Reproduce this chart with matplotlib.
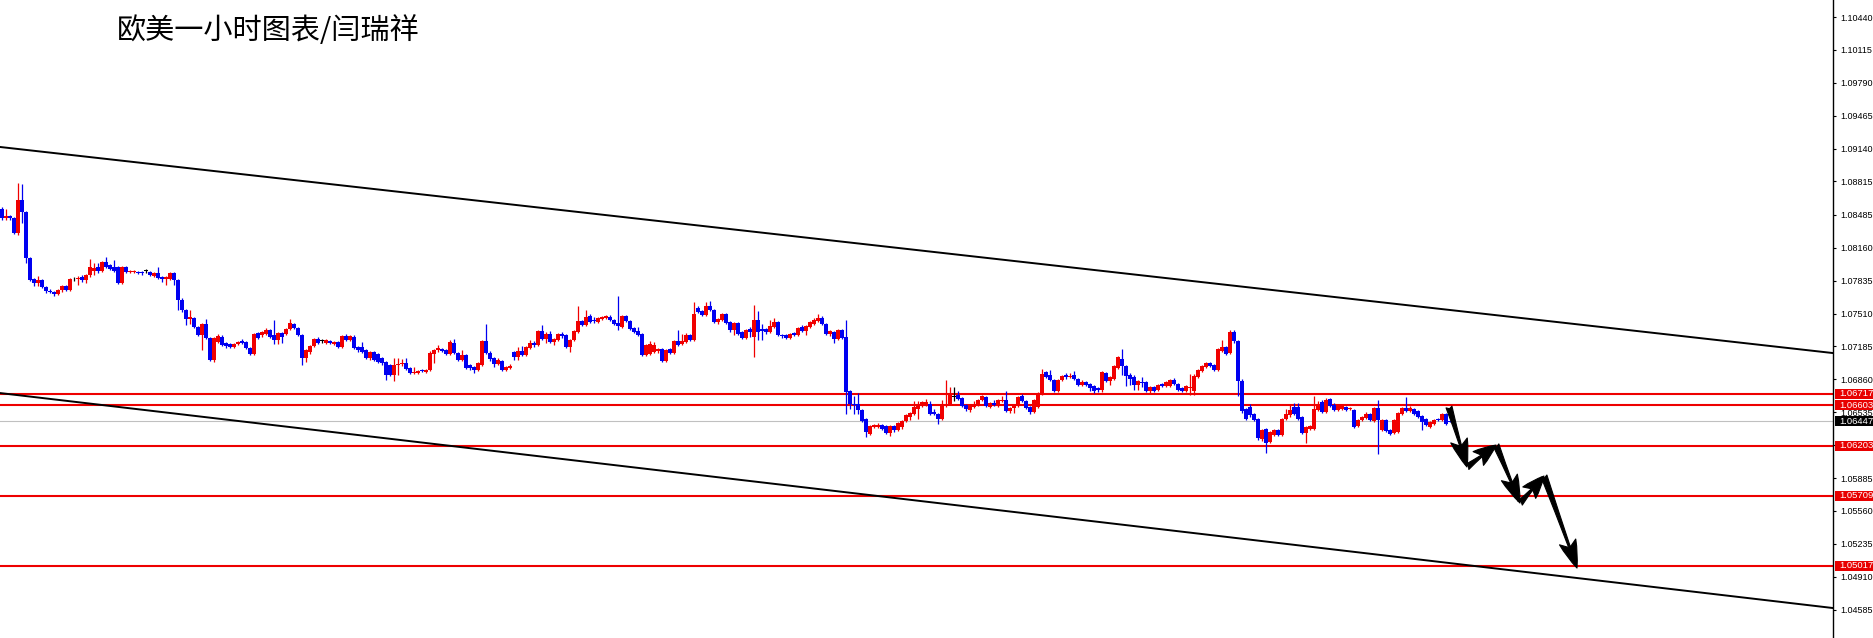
import numpy as np
import matplotlib
matplotlib.use('Agg')
import matplotlib.pyplot as plt
import matplotlib.transforms as mtransforms
from matplotlib.patches import Rectangle

# EURUSD H1 candles, prices in 1/10000 (10854 -> 1.0854)
opens = [
    10854, 10845, 10847, 10845, 10831, 10863, 10851, 10806, 10785, 10781,
    10784, 10777, 10773, 10772, 10770, 10774, 10778, 10774, 10785, 10785,
    10787, 10784, 10789, 10793, 10797, 10793, 10802, 10799, 10797, 10797,
    10781, 10797, 10792, 10792, 10792, 10792, 10793, 10792, 10788, 10791,
    10787, 10785, 10785, 10791, 10784, 10764, 10755, 10746, 10747, 10738,
    10730, 10741, 10727, 10705, 10723, 10728, 10722, 10721, 10718, 10721,
    10724, 10723, 10717, 10711, 10732, 10730, 10731, 10735, 10730, 10725,
    10732, 10731, 10736, 10741, 10737, 10730, 10707, 10713, 10719, 10726,
    10724, 10722, 10724, 10721, 10723, 10718, 10729, 10725, 10728, 10718,
    10718, 10715, 10707, 10713, 10711, 10707, 10703, 10700, 10690, 10700,
    10701, 10702, 10697, 10692, 10692, 10695, 10693, 10695, 10711, 10715,
    10716, 10715, 10711, 10722, 10712, 10705, 10710, 10700, 10698, 10695,
    10700, 10724, 10712, 10707, 10701, 10704, 10695, 10697, 10713, 10708,
    10714, 10710, 10717, 10722, 10720, 10734, 10726, 10731, 10723, 10725,
    10731, 10730, 10718, 10725, 10733, 10744, 10740, 10749, 10745, 10743,
    10746, 10747, 10748, 10745, 10742, 10738, 10749, 10744, 10737, 10734,
    10731, 10710, 10711, 10713, 10714, 10716, 10704, 10716, 10712, 10724,
    10721, 10723, 10730, 10725, 10757, 10754, 10750, 10758, 10755, 10743,
    10745, 10751, 10743, 10735, 10742, 10733, 10727, 10736, 10728, 10745,
    10736, 10736, 10733, 10738, 10743, 10730, 10730, 10727, 10732, 10730,
    10738, 10734, 10738, 10741, 10744, 10747, 10741, 10731, 10733, 10726,
    10735, 10728, 10675, 10662, 10662, 10656, 10647, 10632, 10639, 10639,
    10641, 10640, 10633, 10640, 10636, 10639, 10645, 10649, 10652, 10657,
    10660, 10661, 10662, 10654, 10652, 10647, 10660, 10662, 10669, 10671,
    10668, 10661, 10656, 10659, 10661, 10666, 10669, 10659, 10663, 10660,
    10665, 10666, 10655, 10658, 10660, 10670, 10665, 10659, 10654, 10659,
    10672, 10693, 10690, 10685, 10675, 10685, 10690, 10688, 10690, 10686,
    10680, 10683, 10681, 10679, 10677, 10676, 10692, 10684, 10686, 10697,
    10706, 10699, 10690, 10688, 10680, 10683, 10683, 10675, 10678, 10676,
    10681, 10679, 10679, 10685, 10681, 10677, 10675, 10677, 10675, 10688,
    10694, 10698, 10702, 10700, 10695, 10714, 10718, 10712, 10733, 10724,
    10684, 10657, 10659, 10652, 10647, 10627, 10637, 10624, 10631, 10636,
    10631, 10647, 10651, 10659, 10659, 10649, 10633, 10637, 10637, 10656,
    10664, 10654, 10667, 10661, 10656, 10657, 10659, 10657, 10656, 10640,
    10646, 10648, 10652, 10645, 10658, 10636, 10646, 10636, 10633, 10634,
    10652, 10658, 10655, 10657, 10655, 10650, 10647, 10639, 10642, 10647,
    10646, 10652, 10645,
]
highs = [
    10856, 10854, 10848, 10846, 10880, 10879, 10852, 10807, 10786, 10788,
    10785, 10778, 10775, 10773, 10775, 10779, 10779, 10786, 10787, 10788,
    10789, 10790, 10805, 10801, 10801, 10803, 10807, 10800, 10804, 10798,
    10798, 10798, 10794, 10794, 10793, 10793, 10795, 10793, 10792, 10797,
    10788, 10788, 10792, 10792, 10785, 10766, 10756, 10755, 10748, 10739,
    10742, 10746, 10728, 10728, 10731, 10730, 10723, 10722, 10722, 10724,
    10726, 10724, 10718, 10732, 10733, 10734, 10737, 10736, 10745, 10733,
    10733, 10737, 10746, 10742, 10738, 10731, 10716, 10720, 10727, 10728,
    10726, 10726, 10725, 10724, 10724, 10730, 10731, 10730, 10730, 10719,
    10723, 10716, 10714, 10714, 10712, 10708, 10704, 10701, 10707, 10707,
    10706, 10707, 10698, 10698, 10695, 10696, 10696, 10714, 10716, 10720,
    10717, 10716, 10725, 10726, 10713, 10715, 10711, 10701, 10699, 10703,
    10725, 10741, 10714, 10708, 10707, 10705, 10699, 10701, 10714, 10718,
    10719, 10719, 10725, 10724, 10735, 10740, 10733, 10734, 10727, 10732,
    10733, 10731, 10726, 10735, 10758, 10745, 10755, 10751, 10748, 10748,
    10749, 10750, 10750, 10746, 10768, 10750, 10750, 10745, 10738, 10738,
    10732, 10721, 10724, 10723, 10717, 10717, 10716, 10717, 10725, 10735,
    10731, 10732, 10731, 10762, 10758, 10755, 10762, 10763, 10756, 10747,
    10752, 10752, 10744, 10743, 10743, 10734, 10736, 10738, 10759, 10754,
    10741, 10737, 10745, 10747, 10744, 10731, 10731, 10732, 10733, 10738,
    10740, 10740, 10744, 10747, 10751, 10749, 10742, 10735, 10734, 10736,
    10736, 10745, 10676, 10670, 10673, 10657, 10648, 10641, 10642, 10643,
    10642, 10641, 10641, 10641, 10644, 10646, 10652, 10654, 10665, 10665,
    10665, 10667, 10665, 10657, 10653, 10666, 10685, 10678, 10678, 10675,
    10669, 10662, 10661, 10665, 10667, 10671, 10670, 10664, 10666, 10667,
    10670, 10675, 10659, 10661, 10670, 10672, 10666, 10660, 10667, 10674,
    10696, 10694, 10695, 10686, 10686, 10690, 10692, 10692, 10694, 10687,
    10685, 10684, 10682, 10680, 10678, 10694, 10693, 10689, 10700, 10709,
    10716, 10700, 10692, 10690, 10685, 10688, 10684, 10679, 10679, 10681,
    10682, 10684, 10686, 10687, 10682, 10678, 10680, 10691, 10691, 10696,
    10700, 10703, 10703, 10701, 10717, 10725, 10719, 10735, 10735, 10725,
    10686, 10658, 10662, 10653, 10648, 10637, 10638, 10635, 10637, 10637,
    10648, 10657, 10661, 10663, 10663, 10650, 10640, 10641, 10670, 10665,
    10666, 10668, 10668, 10663, 10661, 10661, 10660, 10659, 10657, 10647,
    10650, 10654, 10653, 10659, 10666, 10647, 10647, 10637, 10647, 10654,
    10659, 10669, 10660, 10658, 10656, 10651, 10648, 10645, 10647, 10648,
    10653, 10653, 10645,
]
lows = [
    10843, 10843, 10843, 10830, 10829, 10840, 10801, 10783, 10778, 10778,
    10776, 10771, 10771, 10768, 10769, 10772, 10773, 10773, 10783, 10779,
    10782, 10781, 10787, 10789, 10791, 10792, 10796, 10794, 10792, 10780,
    10780, 10791, 10791, 10791, 10790, 10789, 10791, 10788, 10787, 10785,
    10782, 10779, 10784, 10779, 10755, 10753, 10740, 10741, 10737, 10729,
    10715, 10726, 10704, 10703, 10722, 10719, 10717, 10717, 10717, 10720,
    10721, 10716, 10710, 10710, 10726, 10728, 10730, 10727, 10721, 10721,
    10722, 10730, 10735, 10736, 10729, 10700, 10703, 10711, 10718, 10721,
    10722, 10721, 10721, 10720, 10717, 10717, 10724, 10724, 10716, 10713,
    10712, 10706, 10705, 10704, 10702, 10700, 10685, 10689, 10684, 10690,
    10699, 10695, 10691, 10691, 10691, 10693, 10692, 10694, 10702, 10713,
    10713, 10710, 10710, 10711, 10704, 10704, 10696, 10695, 10692, 10694,
    10699, 10711, 10704, 10698, 10700, 10694, 10694, 10696, 10705, 10705,
    10709, 10709, 10716, 10718, 10719, 10725, 10722, 10722, 10720, 10724,
    10727, 10717, 10713, 10724, 10732, 10739, 10739, 10742, 10742, 10742,
    10745, 10746, 10744, 10740, 10735, 10737, 10743, 10735, 10732, 10729,
    10709, 10709, 10710, 10712, 10712, 10703, 10703, 10711, 10711, 10719,
    10720, 10722, 10724, 10724, 10752, 10749, 10749, 10754, 10742, 10741,
    10744, 10741, 10733, 10730, 10730, 10726, 10726, 10728, 10708, 10725,
    10725, 10731, 10732, 10737, 10729, 10727, 10726, 10726, 10729, 10729,
    10733, 10730, 10737, 10740, 10743, 10740, 10730, 10729, 10722, 10725,
    10726, 10652, 10657, 10652, 10652, 10644, 10629, 10631, 10638, 10638,
    10636, 10632, 10630, 10634, 10635, 10637, 10644, 10646, 10651, 10647,
    10659, 10660, 10651, 10651, 10642, 10646, 10659, 10661, 10665, 10666,
    10659, 10655, 10654, 10658, 10660, 10665, 10659, 10658, 10660, 10659,
    10664, 10654, 10653, 10653, 10659, 10664, 10657, 10652, 10653, 10658,
    10671, 10687, 10684, 10674, 10674, 10684, 10686, 10687, 10685, 10679,
    10679, 10679, 10675, 10673, 10674, 10674, 10683, 10680, 10685, 10696,
    10690, 10679, 10680, 10676, 10676, 10678, 10674, 10673, 10674, 10675,
    10678, 10678, 10678, 10680, 10675, 10674, 10674, 10671, 10671, 10687,
    10693, 10697, 10698, 10694, 10694, 10713, 10710, 10711, 10722, 10670,
    10653, 10646, 10649, 10645, 10626, 10625, 10613, 10623, 10630, 10630,
    10630, 10646, 10649, 10651, 10646, 10632, 10623, 10636, 10636, 10655,
    10653, 10653, 10659, 10655, 10655, 10656, 10655, 10656, 10638, 10639,
    10645, 10647, 10645, 10644, 10612, 10635, 10634, 10631, 10632, 10633,
    10651, 10654, 10654, 10651, 10648, 10636, 10640, 10638, 10641, 10645,
    10645, 10641, 10644,
]
closes = [
    10845, 10847, 10845, 10831, 10863, 10851, 10806, 10784, 10781, 10784,
    10777, 10773, 10772, 10770, 10774, 10778, 10774, 10785, 10785, 10786,
    10784, 10789, 10797, 10796, 10793, 10802, 10797, 10795, 10793, 10781,
    10797, 10792, 10793, 10793, 10791, 10791, 10793, 10789, 10791, 10786,
    10785, 10787, 10791, 10784, 10764, 10755, 10746, 10748, 10738, 10730,
    10741, 10727, 10705, 10727, 10729, 10720, 10719, 10718, 10721, 10723,
    10722, 10717, 10711, 10731, 10727, 10733, 10735, 10728, 10725, 10732,
    10728, 10736, 10742, 10737, 10730, 10707, 10715, 10719, 10726, 10722,
    10724, 10725, 10722, 10723, 10718, 10729, 10725, 10729, 10717, 10715,
    10713, 10707, 10713, 10705, 10703, 10702, 10690, 10690, 10700, 10701,
    10702, 10696, 10692, 10693, 10694, 10694, 10695, 10712, 10715, 10717,
    10714, 10711, 10723, 10712, 10705, 10710, 10697, 10697, 10695, 10702,
    10724, 10712, 10706, 10701, 10705, 10695, 10698, 10699, 10708, 10714,
    10710, 10718, 10722, 10720, 10734, 10726, 10731, 10723, 10726, 10731,
    10729, 10718, 10725, 10734, 10744, 10740, 10748, 10743, 10744, 10747,
    10748, 10749, 10745, 10741, 10739, 10749, 10744, 10736, 10733, 10730,
    10710, 10720, 10721, 10720, 10716, 10704, 10715, 10712, 10724, 10720,
    10724, 10730, 10725, 10751, 10753, 10750, 10758, 10755, 10743, 10746,
    10751, 10742, 10735, 10742, 10731, 10727, 10735, 10733, 10745, 10733,
    10734, 10733, 10739, 10743, 10730, 10729, 10727, 10731, 10730, 10737,
    10734, 10739, 10743, 10745, 10747, 10741, 10731, 10734, 10726, 10735,
    10727, 10674, 10662, 10661, 10656, 10645, 10634, 10640, 10641, 10641,
    10637, 10633, 10640, 10636, 10643, 10645, 10651, 10653, 10659, 10662,
    10664, 10664, 10652, 10652, 10647, 10660, 10662, 10671, 10669, 10667,
    10660, 10657, 10660, 10662, 10666, 10670, 10660, 10663, 10661, 10666,
    10666, 10655, 10658, 10660, 10669, 10665, 10658, 10654, 10666, 10673,
    10691, 10688, 10685, 10675, 10685, 10689, 10688, 10689, 10686, 10680,
    10683, 10680, 10677, 10675, 10676, 10693, 10684, 10688, 10699, 10708,
    10699, 10689, 10686, 10680, 10684, 10682, 10675, 10678, 10675, 10680,
    10679, 10683, 10685, 10681, 10676, 10675, 10679, 10678, 10689, 10695,
    10699, 10702, 10699, 10695, 10716, 10718, 10711, 10733, 10724, 10684,
    10655, 10647, 10651, 10646, 10628, 10636, 10623, 10634, 10636, 10631,
    10647, 10652, 10656, 10652, 10647, 10633, 10639, 10640, 10657, 10662,
    10654, 10666, 10660, 10656, 10660, 10660, 10656, 10658, 10639, 10646,
    10649, 10652, 10646, 10658, 10646, 10646, 10635, 10632, 10646, 10653,
    10658, 10655, 10658, 10652, 10649, 10644, 10641, 10644, 10646, 10646,
    10652, 10642, 10644,
]

# right price scale
tick_vals = [1.10440, 1.10115, 1.09790, 1.09465, 1.09140, 1.08815, 1.08485,
             1.08160, 1.07835, 1.07510, 1.07185, 1.06860, 1.06535, 1.06210,
             1.05885, 1.05560, 1.05235, 1.04910, 1.04585]
tick_labels = ['%.5f' % v for v in tick_vals]

# horizontal support/resistance lines and current bid
levels = [1.06717, 1.06603, 1.06203, 1.05709, 1.05017]
bid = 1.06447

# channel lines (bar index, price)
upper_x = [-0.5, 457.75]
upper_y = [1.09156, 1.07120]
lower_x = [-0.5, 457.75]
lower_y = [1.06725, 1.04601]

# projected path drawn as arrows
path_x = [361.75, 366.25, 373.5, 379.5, 385.5, 393.75]
path_y = [1.06587, 1.05994, 1.06211, 1.05638, 1.05905, 1.04996]

title = '欧美一小时图表/闫瑞祥'

W, H = 1874, 638
AX_W = 1833
fig = plt.figure(figsize=(W / 100, H / 100), dpi=100, facecolor='white')
ax = fig.add_axes([0, 0, AX_W / W, 1])
ax.set_xlim(-0.5, 457.75)
ax.set_ylim(1.04305, 1.10608)

o = np.array(opens) / 10000
h = np.array(highs) / 10000
l = np.array(lows) / 10000
c = np.array(closes) / 10000
x = np.arange(len(o))

RED = '#f00000'
BLUE = '#0000f0'
cols = np.where(c > o, RED, np.where(c < o, BLUE, 'black'))

ax.vlines(x, l, h, colors=cols, lw=0.9, zorder=3)
body_h = np.maximum(np.abs(c - o), 0.00006)
ax.bar(x, body_h, bottom=np.minimum(o, c), width=0.8, color=cols,
       linewidth=0, zorder=4)

for lv in levels:
    ax.axhline(lv, color='#ee0000', lw=1.5, zorder=2)
ax.axhline(bid, color='#c0c0c0', lw=0.8, zorder=1)

ax.plot(upper_x, upper_y, color='black', lw=1.4, zorder=2)
ax.plot(lower_x, lower_y, color='black', lw=1.4, zorder=2)

for i in range(len(path_x) - 1):
    down = path_y[i + 1] < path_y[i]
    style = ('fancy,head_length=%.2f,head_width=0.62,tail_width=0.22'
             % (1.0 if down else 0.8))
    ax.annotate('', xy=(path_x[i + 1], path_y[i + 1]),
                xytext=(path_x[i], path_y[i]),
                arrowprops=dict(arrowstyle=style, mutation_scale=20,
                                fc='black', ec='black', lw=0.8,
                                shrinkA=0, shrinkB=0), zorder=6)

# axis styling (MT4 style)
for s in ['top', 'left', 'bottom']:
    ax.spines[s].set_visible(False)
ax.spines['right'].set_linewidth(1.0)
ax.set_xticks([])
ax.yaxis.tick_right()
ax.set_yticks(tick_vals)
ax.set_yticklabels(tick_labels, fontsize=6.5, fontfamily='Liberation Sans')
ax.tick_params(axis='y', length=2.5, width=0.8, pad=2.6, colors='black')

# price tags on the scale
trans = mtransforms.blended_transform_factory(ax.transAxes, ax.transData)
tag_h = 10 * (1.10608 - 1.04305) / H
for lv, fc in [(v, '#e80000') for v in levels] + [(bid, 'black')]:
    ax.add_patch(Rectangle((1835 / AX_W, lv - tag_h / 2), 39 / AX_W, tag_h,
                           transform=trans, facecolor=fc, edgecolor='none',
                           clip_on=False, zorder=7))
    ax.text(1839.5 / AX_W, lv, '%.5f' % lv, transform=trans, color='white',
            fontsize=6.8, fontfamily='Liberation Sans', ha='left', va='center',
            clip_on=False, zorder=8)

fig.text(117 / W, 1 - 30.5 / H, title, fontsize=21,
         family=['Noto Sans CJK SC', 'DejaVu Sans'], ha='left', va='center')

fig.savefig('out.png', dpi=100, facecolor='white')
